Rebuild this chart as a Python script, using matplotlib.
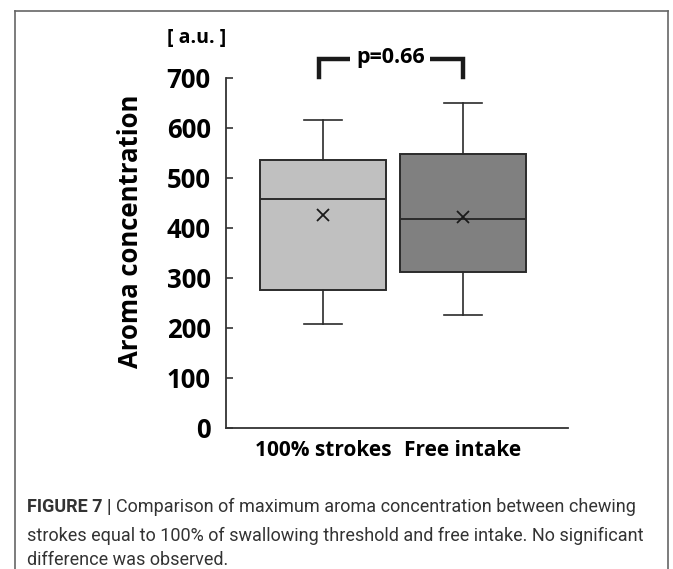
"""Box plot of maximum aroma concentration, 100% strokes vs free intake"""

import matplotlib
matplotlib.use("Agg")
import matplotlib.pyplot as plt
from matplotlib.lines import Line2D

GROUPS = ["100% strokes", "Free intake"]
WHISKER_LOW = [209, 227]
Q1 = [276, 312]
MEDIAN = [458, 418]
Q3 = [536, 549]
WHISKER_HIGH = [616, 651]
MEAN = [426, 423]
P_VALUE = 0.66

BOX_COLORS = ["#c0c0c0", "#808080"]
EDGE = "#2b2b2b"

W, H, DPI = 673, 569, 100

plt.rcParams["font.family"] = ["Open Sans", "DejaVu Sans"]
plt.rcParams["font.weight"] = "bold"

# =============================================================================
fig = plt.figure(figsize=(W / DPI, H / DPI), dpi=DPI)
fig.patch.set_facecolor("white")


def px(x, y):
    """pixel position -> figure fraction"""
    return x / W, 1 - y / H


# Axes placed to pixel positions of the axis lines
x0, y0 = px(226, 428)
x1, y1 = px(568, 78)
ax = fig.add_axes([x0, y0, x1 - x0, y1 - y0])

stats = []
for i in range(len(GROUPS)):
    stats.append(dict(label=GROUPS[i], whislo=WHISKER_LOW[i], q1=Q1[i],
                      med=MEDIAN[i], q3=Q3[i], whishi=WHISKER_HIGH[i],
                      mean=MEAN[i], fliers=[]))

positions = [1, 2]
bp = ax.bxp(stats, positions=positions, widths=0.9, patch_artist=True,
            showmeans=True, showfliers=False,
            boxprops=dict(edgecolor=EDGE, linewidth=1.4),
            medianprops=dict(color=EDGE, linewidth=1.4),
            whiskerprops=dict(color=EDGE, linewidth=1.2),
            capprops=dict(color=EDGE, linewidth=1.2),
            meanprops=dict(marker="x", markeredgecolor="#1a1a1a",
                           markersize=9, markeredgewidth=1.3),
            capwidths=0.27)
for patch, col in zip(bp["boxes"], BOX_COLORS):
    patch.set_facecolor(col)

ax.set_xlim(0.307, 2.75)
ax.set_ylim(0, 700)
ax.set_yticks(range(0, 701, 100))
ax.spines["top"].set_visible(False)
ax.spines["right"].set_visible(False)
for s in ["left", "bottom"]:
    ax.spines[s].set_color("#333333")
    ax.spines[s].set_linewidth(1.3)

ax.tick_params(axis="y", direction="in", length=5, width=1.2,
               color="#333333", pad=11, labelsize=18.5)
ax.tick_params(axis="x", length=0, pad=9, labelsize=15)

# Axis title and unit
fig.text(*px(131, 231), "Aroma concentration", rotation=90, ha="center",
         va="center", fontsize=18.5, fontweight="bold")
fig.text(*px(197, 38), "[ a.u. ]", ha="center", va="center",
         fontsize=14, fontweight="bold")

# Significance bracket
br_x = [positions[0] - 0.03, positions[0] - 0.03,
        positions[1], positions[1]]
br_y = [702, 738, 738, 702]
ax.plot(br_x, br_y, color="#1a1a1a", linewidth=3.2, clip_on=False,
        solid_joinstyle="miter")
ax.text((positions[0] + positions[1]) / 2 - 0.02, 740,
        "p=0.66".replace("0.66", "{:.2f}".format(P_VALUE)),
        ha="center", va="center", fontsize=15.5, fontweight="bold",
        bbox=dict(facecolor="white", edgecolor="none", pad=4),
        clip_on=False)

# Outer frame (open at the bottom)
fx0, fy0 = px(15, 11)
fx1, _ = px(668, 11)
for xs, ys in [([fx0, fx1], [fy0, fy0]), ([fx0, fx0], [fy0, 0]),
               ([fx1, fx1], [fy0, 0])]:
    fig.add_artist(Line2D(xs, ys, color="#666666", linewidth=1.2,
                          transform=fig.transFigure))

# Caption
CAP_FONT = "Roboto"
CAP_SIZE = 13
cx, cy = px(27, 512)
t = fig.text(cx, cy, "FIGURE 7 | ", fontsize=CAP_SIZE, fontweight="bold",
             family=CAP_FONT, color="#333333", va="baseline")
fig.canvas.draw()
bb = t.get_window_extent()
fig.text(cx + bb.width / W, cy,
         "Comparison of maximum aroma concentration between chewing",
         fontsize=CAP_SIZE, family=CAP_FONT, fontweight="normal",
         color="#333333", va="baseline")
fig.text(*px(27, 541),
         "strokes equal to 100% of swallowing threshold and free intake. "
         "No significant", fontsize=CAP_SIZE, family=CAP_FONT,
         fontweight="normal", color="#333333", va="baseline")
fig.text(*px(27, 565),
         "difference was observed.", fontsize=CAP_SIZE, family=CAP_FONT,
         fontweight="normal", color="#333333", va="baseline")

plt.savefig("out.png", dpi=DPI)
